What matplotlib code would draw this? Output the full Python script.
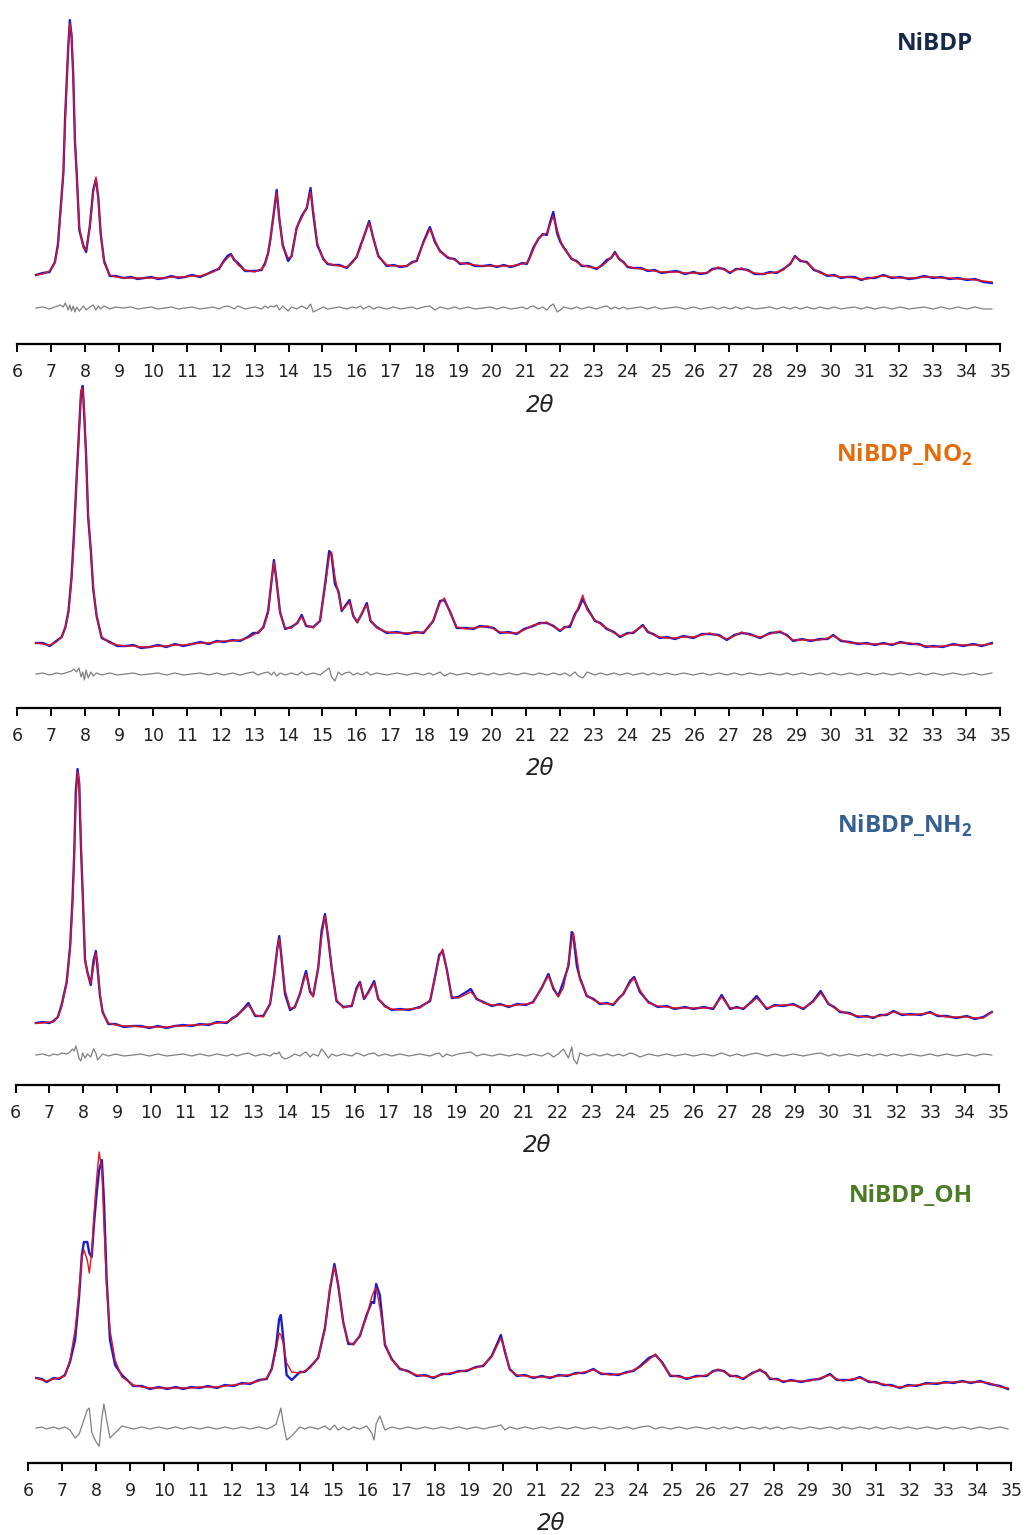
import numpy as np
import matplotlib.pyplot as plt

# 2theta grid, calculated profile and difference (obs - calc) for each sample
tt_nibdp = [6.55, 6.75, 6.95, 7.11, 7.2, 7.26, 7.36, 7.41, 7.46, 7.5, 7.55, 7.6, 7.65, 7.7, 7.75, 7.83, 7.95, 8.03,
            8.14, 8.24, 8.32, 8.39, 8.46, 8.56, 8.73, 8.9, 9.13, 9.35, 9.55, 9.75, 9.95, 10.15, 10.35, 10.55, 10.75,
            10.95, 11.15, 11.39, 11.6, 11.78, 11.95, 12.07, 12.2, 12.3, 12.4, 12.51, 12.72, 12.85, 13.01, 13.2, 13.31,
            13.4, 13.47, 13.57, 13.65, 13.73, 13.83, 13.99, 14.09, 14.24, 14.39, 14.54, 14.65, 14.73, 14.85, 15.03,
            15.15, 15.32, 15.5, 15.72, 15.88, 16.01, 16.12, 16.21, 16.38, 16.5, 16.65, 16.9, 17.1, 17.3, 17.49, 17.65,
            17.78, 17.98, 18.17, 18.32, 18.47, 18.71, 18.9, 19.06, 19.3, 19.5, 19.75, 19.95, 20.15, 20.35, 20.55,
            20.75, 20.9, 21.03, 21.12, 21.22, 21.37, 21.5, 21.62, 21.72, 21.81, 21.93, 22.02, 22.11, 22.35, 22.5,
            22.65, 22.85, 23.09, 23.25, 23.39, 23.52, 23.63, 23.75, 23.88, 24.0, 24.17, 24.4, 24.6, 24.8, 25.0, 25.2,
            25.45, 25.7, 25.95, 26.15, 26.34, 26.5, 26.68, 26.85, 27.02, 27.2, 27.37, 27.55, 27.75, 28.01, 28.2, 28.4,
            28.6, 28.8, 28.94, 29.1, 29.29, 29.5, 29.68, 29.9, 30.1, 30.3, 30.47, 30.7, 30.9, 31.06, 31.3, 31.55,
            31.8, 32.05, 32.3, 32.53, 32.75, 33.02, 33.25, 33.5, 33.75, 34.01, 34.25, 34.5, 34.75]
calc_nibdp = [33, 34, 37, 45, 62, 88, 135, 185, 225, 261, 285, 275, 231, 171, 135, 81, 60, 58,
              81, 115, 131, 108, 75, 45, 33, 31, 30, 30, 30, 30, 30, 30, 30, 31, 31,
              31, 32, 32, 34, 36, 40, 45, 50, 53, 49, 43, 38, 37, 36, 39, 43,
              55, 68, 95, 115, 91, 61, 50, 51, 81, 90, 101, 116, 98, 65, 48,
              45, 43, 42, 41, 45, 51, 60, 71, 85, 71, 51, 43, 42, 42, 42, 45,
              48, 65, 79, 68, 56, 51, 48, 45, 44, 43, 42, 42, 42, 42, 42,
              43, 44, 45, 50, 58, 70, 73, 75, 84, 92, 78, 68, 60, 50, 46,
              43, 41, 40, 42, 46, 51, 55, 50, 45, 42, 40, 39, 38, 37, 36, 36,
              36, 35, 35, 35, 35, 38, 41, 38, 36, 38, 40, 37, 35, 34, 35, 36,
              38, 45, 51, 48, 45, 39, 35, 33, 32, 31, 31, 30, 29, 29, 31, 32,
              31, 30, 30, 30, 31, 31, 30, 30, 29, 29, 28, 27, 26]
diff_nibdp = [0, 1, -1, 1, 2, 3, 1, 5, 2, -2, 3, -3, 2, -4, 1, -3, 2, -2,
              1, 3, -2, 2, -1, 2, -1, 1, 0, 1, -1, 0, 1, -1, 0, 1, -1,
              0, 1, -1, 0, 1, -1, 1, 2, 1, -1, 2, -1, 0, 1, -1, 2,
              0, 2, 1, 3, -2, 2, -3, 1, -1, 2, -1, 4, -4, -2, 1,
              -1, 0, 1, -1, 1, 0, 2, -1, 2, -1, 1, -1, 1, -1, 0, 1,
              -1, 1, 2, -2, 1, -1, 1, -1, 1, -1, 0, 1, -1, 1, -1,
              0, 1, -1, 1, 2, -1, 1, -2, 2, 4, -4, -2, 1, -1, 1,
              -1, 1, -1, 1, 2, -1, 1, -1, 1, -1, 0, 1, -1, 1, -1, 0,
              1, -1, 1, -1, 0, 1, -1, 1, -1, 1, -1, 1, -1, 0, 1, -1,
              1, -1, 1, -1, 1, -1, 1, -1, 1, -1, 0, 1, -1, 1, -1, 1,
              -1, 1, -1, 0, 1, -1, 1, -1, 1, -1, 1, -1, -1]

tt_no2 = [6.55, 6.75, 6.96, 7.15, 7.31, 7.42, 7.51, 7.6, 7.67, 7.75, 7.82, 7.88, 7.93, 7.98, 8.03, 8.09, 8.17, 8.24,
          8.34, 8.49, 8.73, 8.95, 9.2, 9.42, 9.65, 9.91, 10.15, 10.4, 10.65, 10.9, 11.15, 11.4, 11.65, 11.88, 12.1,
          12.35, 12.57, 12.8, 12.96, 13.1, 13.26, 13.4, 13.5, 13.57, 13.65, 13.75, 13.9, 14.09, 14.26, 14.39, 14.52,
          14.73, 14.93, 15.08, 15.2, 15.27, 15.37, 15.47, 15.57, 15.67, 15.8, 15.91, 16.03, 16.16, 16.31, 16.42,
          16.6, 16.9, 17.2, 17.49, 17.75, 17.98, 18.15, 18.27, 18.47, 18.6, 18.77, 18.96, 19.26, 19.45, 19.65,
          19.89, 20.05, 20.24, 20.5, 20.73, 20.95, 21.22, 21.4, 21.62, 21.82, 22.01, 22.15, 22.3, 22.45, 22.55,
          22.68, 22.81, 23.04, 23.2, 23.39, 23.6, 23.78, 24.0, 24.17, 24.45, 24.6, 24.76, 24.95, 25.16, 25.4,
          25.65, 25.94, 26.2, 26.43, 26.7, 26.93, 27.15, 27.37, 27.6, 27.91, 28.2, 28.5, 28.7, 28.89, 29.15,
          29.4, 29.68, 29.9, 30.07, 30.3, 30.56, 30.8, 31.05, 31.3, 31.55, 31.8, 32.05, 32.33, 32.6, 32.8,
          33.02, 33.3, 33.61, 33.9, 34.2, 34.45, 34.75]
calc_no2 = [31, 30, 29, 32, 37, 46, 61, 94, 134, 194, 237, 284, 286, 261, 214, 161, 121, 87,
            57, 37, 31, 29, 28, 28, 27, 27, 28, 28, 29, 29, 30, 31, 31, 32, 33,
            33, 34, 36, 39, 42, 46, 61, 94, 112, 94, 61, 46, 46, 52, 57, 49,
            46, 54, 87, 117, 122, 97, 81, 64, 67, 72, 59, 51, 61, 69, 54,
            46, 42, 41, 41, 41, 42, 47, 54, 71, 76, 61, 47, 45, 46, 47,
            48, 45, 42, 41, 41, 44, 49, 50, 52, 47, 44, 46, 49, 58, 67,
            79, 64, 54, 50, 46, 41, 38, 40, 42, 48, 43, 39, 37, 36, 36,
            37, 37, 39, 41, 38, 35, 38, 42, 39, 37, 40, 43, 38, 34, 34,
            34, 34, 36, 38, 34, 31, 31, 30, 30, 30, 30, 31, 31, 29, 28,
            27, 28, 29, 29, 29, 29, 30]
diff_no2 = [0, 1, -1, 1, 0, 1, 2, 3, 5, 2, 6, -3, 2, -6, 4, -4, 2, -2,
            1, -1, 1, -1, 0, 1, -1, 0, 1, -1, 1, -1, 0, 1, -1, 1, -1,
            1, -1, 1, 2, -1, 1, 2, -1, 2, -2, 1, -1, 1, -1, 2, -1,
            1, -1, 3, 6, -3, -7, 2, -1, 1, 2, -1, 1, -1, 2, -1,
            1, -1, 1, -1, 1, -1, 1, -1, 2, -2, 1, -1, 1, -1, 1,
            -1, 1, -1, 1, -1, 1, -1, 1, -1, 1, -1, 1, -2, 2, -2,
            -4, 2, -1, 1, -1, 1, -1, 1, -1, 1, -1, 1, -1, 1, -1,
            1, -1, 1, -1, 1, -1, 1, -1, 1, -1, 1, -1, 1, -1, 1,
            -1, 1, -1, 1, -1, 1, -1, 1, -1, 1, -1, 1, -1, 1, -1,
            1, -1, 1, -1, 1, -1, 1]

tt_nh2 = [6.6, 6.8, 7.0, 7.12, 7.25, 7.36, 7.51, 7.61, 7.68, 7.73, 7.78, 7.83, 7.88, 7.93, 7.98, 8.05, 8.12, 8.22,
          8.3, 8.37, 8.42, 8.49, 8.57, 8.74, 8.95, 9.2, 9.47, 9.7, 9.95, 10.2, 10.46, 10.7, 10.95, 11.2, 11.44,
          11.7, 11.95, 12.23, 12.4, 12.52, 12.72, 12.87, 13.07, 13.31, 13.51, 13.63, 13.72, 13.78, 13.85, 13.95,
          14.1, 14.24, 14.39, 14.51, 14.57, 14.69, 14.78, 14.93, 15.03, 15.13, 15.23, 15.33, 15.47, 15.67, 15.92,
          16.06, 16.16, 16.28, 16.41, 16.58, 16.7, 16.9, 17.1, 17.34, 17.6, 17.93, 18.23, 18.38, 18.5, 18.6, 18.72,
          18.87, 19.06, 19.25, 19.43, 19.6, 19.8, 20.05, 20.29, 20.55, 20.8, 21.05, 21.27, 21.52, 21.72, 21.87,
          22.01, 22.16, 22.31, 22.41, 22.46, 22.56, 22.65, 22.85, 23.05, 23.24, 23.45, 23.63, 23.8, 23.93, 24.13,
          24.25, 24.42, 24.67, 24.95, 25.21, 25.45, 25.75, 26.0, 26.3, 26.58, 26.83, 27.08, 27.28, 27.47, 27.7,
          27.86, 28.16, 28.4, 28.65, 28.94, 29.24, 29.53, 29.75, 29.98, 30.15, 30.32, 30.6, 30.85, 31.11, 31.3,
          31.5, 31.7, 31.9, 32.15, 32.39, 32.7, 32.98, 33.2, 33.47, 33.75, 34.06, 34.3, 34.55, 34.8]
calc_nh2 = [32, 32, 33, 33, 38, 48, 72, 105, 148, 195, 255, 283, 275, 215, 162, 98, 82, 72,
            88, 102, 92, 62, 42, 32, 30, 29, 29, 28, 28, 28, 28, 29, 29, 30, 30,
            31, 32, 33, 36, 40, 45, 50, 40, 38, 52, 78, 105, 116, 98, 65,
            47, 47, 62, 75, 81, 65, 58, 88, 118, 139, 118, 85, 55, 47, 50,
            65, 72, 57, 62, 72, 57, 48, 46, 45, 46, 47, 55, 78, 98, 106, 85,
            58, 57, 60, 63, 57, 52, 50, 50, 49, 50, 51, 52, 68, 79, 68,
            58, 67, 92, 115, 122, 98, 75, 60, 55, 52, 51, 51, 56, 62, 72,
            77, 65, 52, 49, 48, 47, 47, 47, 47, 47, 58, 47, 47, 47, 52,
            57, 47, 49, 50, 50, 47, 53, 62, 52, 47, 44, 41, 39, 38, 38,
            39, 41, 43, 41, 40, 41, 42, 40, 38, 38, 38, 37, 37, 43]
diff_nh2 = [0, 1, -1, 1, 0, 2, 1, 3, 6, 4, 9, 3, -4, -6, 2, -3, 1, -2,
            6, 2, -5, -2, 1, -1, 1, -1, 0, 1, -1, 1, -1, 0, 1, -1, 1,
            -1, 1, -1, 1, -1, 1, 2, -1, 1, -1, 2, 1, 3, -2, -4,
            -2, 1, -1, 2, 3, -2, 1, -1, 6, 2, -3, 1, -1, 1, -1,
            2, 1, -1, 1, 2, -1, 1, -1, 1, -1, 1, -1, 1, 2, -2, 1,
            -1, 1, 2, 3, -1, 1, -1, 1, -1, 1, -1, 1, -1, 2, -2,
            1, 6, -3, 8, -4, -9, 2, -1, 1, -1, 1, -1, 1, -1, 2,
            1, -2, 1, -1, 1, -1, 1, -1, 1, -1, 2, -1, 1, -1, 1,
            2, -1, 1, -1, 1, -1, 1, 2, -1, 1, -1, 1, -1, 1, -1,
            1, -1, 1, -1, 1, -1, 1, -1, 1, -1, 1, -1, 1, 0]

tt_oh = [6.23, 6.4, 6.54, 6.75, 6.9, 7.08, 7.23, 7.38, 7.5, 7.58, 7.64, 7.74, 7.8, 7.87, 7.94, 8.02, 8.09, 8.17,
         8.23, 8.31, 8.41, 8.56, 8.76, 9.1, 9.35, 9.59, 9.85, 10.1, 10.35, 10.57, 10.8, 11.05, 11.3, 11.56, 11.8,
         12.05, 12.3, 12.54, 12.8, 13.03, 13.18, 13.31, 13.4, 13.45, 13.52, 13.62, 13.77, 14.01, 14.15, 14.31,
         14.55, 14.75, 14.9, 15.03, 15.14, 15.29, 15.44, 15.59, 15.78, 15.98, 16.13, 16.2, 16.26, 16.37, 16.52,
         16.72, 16.96, 17.2, 17.46, 17.7, 17.95, 18.2, 18.44, 18.7, 18.93, 19.2, 19.42, 19.67, 19.84, 19.94,
         20.06, 20.2, 20.41, 20.65, 20.9, 21.15, 21.39, 21.65, 21.9, 22.15, 22.4, 22.67, 22.9, 23.16, 23.4,
         23.66, 23.85, 24.05, 24.3, 24.5, 24.69, 24.94, 25.2, 25.42, 25.7, 26.01, 26.2, 26.35, 26.52, 26.7,
         26.9, 27.09, 27.35, 27.58, 27.75, 27.88, 28.1, 28.27, 28.5, 28.8, 29.06, 29.35, 29.65, 29.85, 30.04,
         30.3, 30.53, 30.8, 31.0, 31.22, 31.45, 31.71, 31.95, 32.2, 32.5, 32.8, 33.05, 33.29, 33.55, 33.8,
         34.08, 34.35, 34.67, 34.9]
calc_oh = [50, 48, 47, 49, 50, 52, 68, 98, 138, 171, 178, 168, 155, 175, 215, 251, 276, 258,
           205, 141, 98, 68, 51, 43, 41, 40, 40, 40, 40, 40, 40, 41, 41, 41, 42,
           43, 44, 45, 47, 50, 58, 78, 95, 93, 85, 65, 56, 55, 57, 60,
           71, 98, 141, 161, 145, 105, 86, 83, 93, 111, 131, 137, 140, 121, 85,
           68, 60, 56, 53, 52, 51, 53, 55, 56, 58, 60, 63, 71, 83, 90,
           78, 58, 53, 52, 51, 51, 51, 52, 53, 54, 56, 58, 55, 53, 54,
           55, 58, 61, 68, 74, 65, 53, 51, 50, 51, 53, 56, 59, 56, 53,
           51, 50, 54, 59, 54, 50, 48, 47, 47, 47, 47, 50, 53, 49, 47,
           49, 50, 47, 45, 44, 42, 41, 42, 43, 44, 45, 45, 46, 46, 46,
           46, 45, 41, 40]
diff_oh = [0, 1, -1, 1, -1, 1, -2, -10, -6, 2, 8, 18, 20, -4, -10, -15, -18, 10,
           24, 8, -10, -5, 2, -1, 1, -1, 1, -1, 1, -1, 1, -1, 1, -1, 1,
           -1, 1, -1, 1, -1, 1, 4, 14, 20, 5, -12, -8, 1, -1, 1,
           -1, 2, -2, 3, -2, 1, -2, 1, -1, 2, -5, -12, 4, 12, -2,
           1, -1, 1, -1, 1, -1, 1, -1, 1, -1, 1, -1, 1, 2, 3,
           -2, 1, -1, 1, -1, 1, -1, 1, -1, 1, -1, 1, -1, 1, -1,
           1, -1, 1, 2, -1, 1, -1, 1, -1, 1, -1, 1, -1, 1, -1,
           1, -1, 1, -1, 1, -1, 1, -1, 1, -1, 1, -1, 1, -1, 1,
           -1, 1, -1, 1, -1, 1, -1, 1, -1, 1, -1, 1, -1, 1, -1,
           1, -1, 1, -1]

samples = ["NiBDP", "NiBDP_NO$_\\mathregular{2}$", "NiBDP_NH$_\\mathregular{2}$", "NiBDP_OH"]
title_colors = ["#17294a", "#e46c0a", "#376092", "#4a7d23"]
tt_all = [tt_nibdp, tt_no2, tt_nh2, tt_oh]
calc_all = [calc_nibdp, calc_no2, calc_nh2, calc_oh]
diff_all = [diff_nibdp, diff_no2, diff_nh2, diff_oh]

# layout in pixels: x of 6 deg, axis line y, top y, gap between axis line and diff line
W, H = 1028, 1535
PX_PER_DEG = 33.9
panels = [(17.3, 344, 0, 36), (17.3, 708, 380, 34), (15.5, 1085, 750, 30), (28.3, 1463, 1130, 35)]
xlabel_pos = [(540, 405), (540, 769), (537, 1146), (551, 1523)]
title_base = [50, 462, 833, 1202]

fig = plt.figure(figsize=(W / 100, H / 100), dpi=100)

for i in range(4):
    x6, axy, top, gap = panels[i]
    ax = fig.add_axes([x6 / W, 1 - axy / H, 29 * PX_PER_DEG / W, (axy - top) / H])
    ax.patch.set_alpha(0)
    tt = np.array(tt_all[i])
    calc = np.array(calc_all[i])
    diff = np.array(diff_all[i])
    obs = calc + diff

    ax.plot(tt, obs, color="#1c1cd0", lw=1.7)
    ax.plot(tt, calc, color="#e3141e", lw=1.0)
    ax.plot(tt, diff, color="#808080", lw=0.9)

    ax.set_xlim(6, 35)
    ax.set_ylim(-gap, axy - top - gap)
    for s in ["left", "right", "top"]:
        ax.spines[s].set_visible(False)
    ax.spines["bottom"].set_linewidth(1.6)
    ax.set_yticks([])
    ax.set_xticks(range(6, 36))
    ax.tick_params(axis="x", direction="out", length=6, width=1.4, pad=8,
                   labelsize=12.5, labelcolor="#222222")

    lx, ly = xlabel_pos[i]
    fig.text(lx / W, 1 - ly / H, "2θ", fontsize=16.5, style="italic",
             ha="center", va="center", color="#222222")
    fig.text(973 / W, 1 - title_base[i] / H, samples[i], fontsize=17.5,
             fontweight="bold", family="Open Sans", color=title_colors[i],
             ha="right", va="baseline")

fig.savefig("out.png", dpi=100)
